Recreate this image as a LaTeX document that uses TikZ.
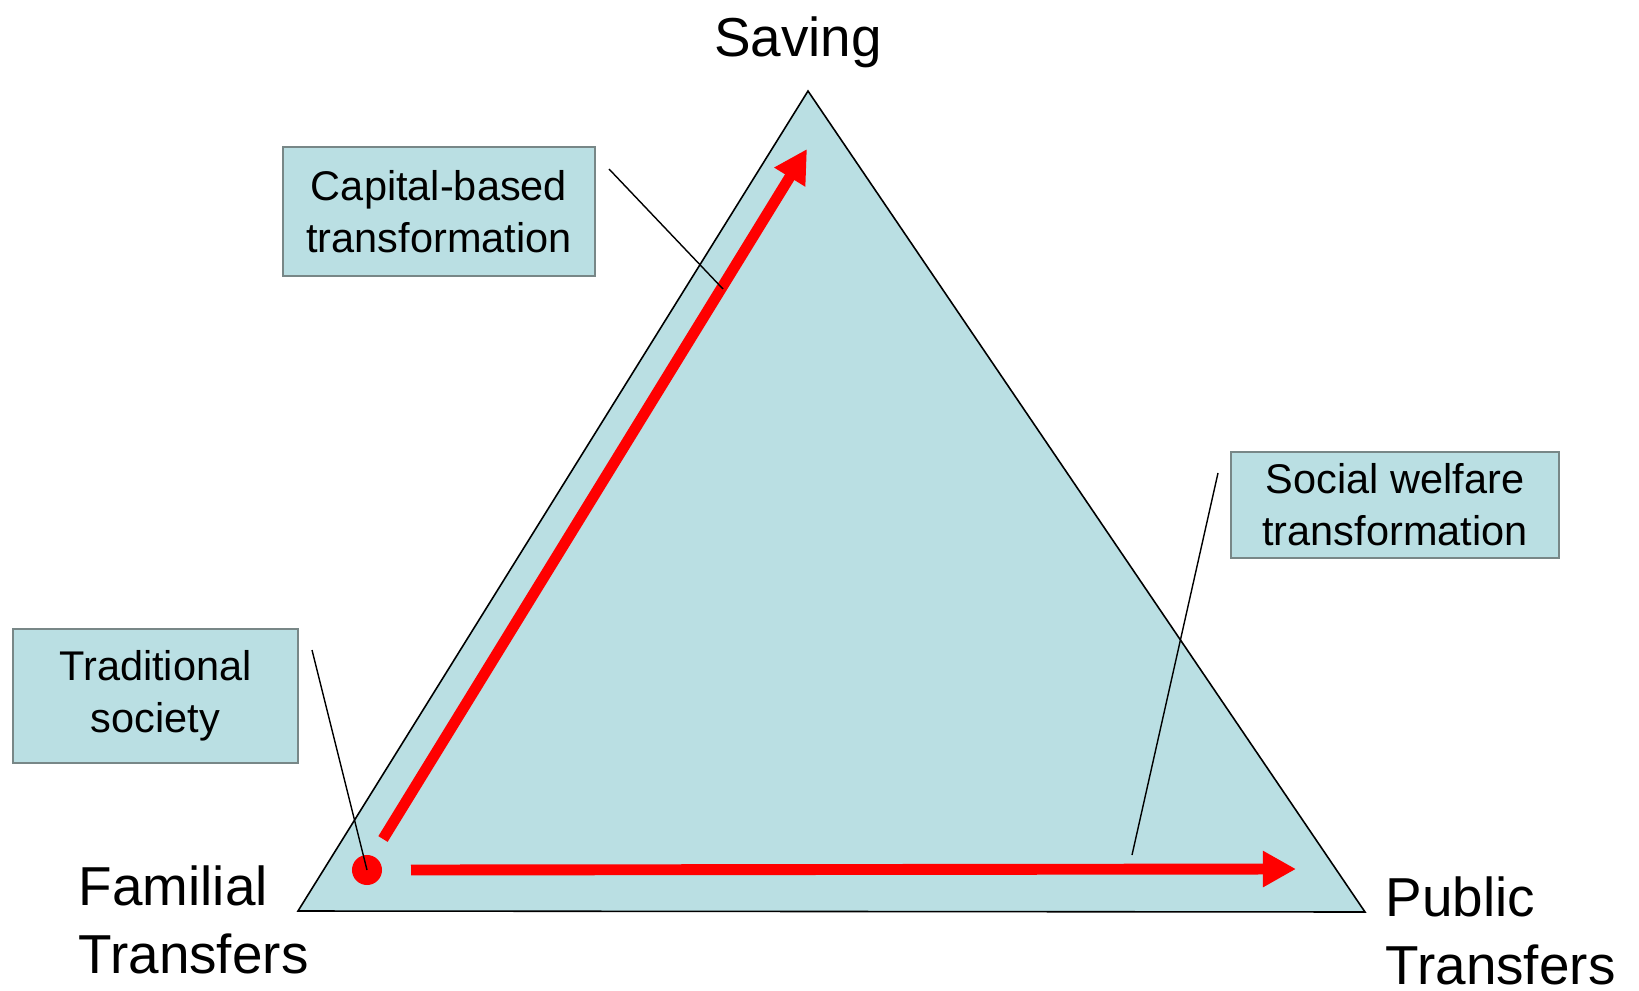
\documentclass[tikz,border=0pt]{standalone}
\usepackage{fontspec}
\setmainfont{Liberation Sans}
\usetikzlibrary{arrows.meta}
\definecolor{paleteal}{RGB}{186,223,227}
\definecolor{boxgrey}{RGB}{120,135,135}
\definecolor{arrowred}{RGB}{255,0,0}

\begin{document}
\begin{tikzpicture}
[x=0.01cm, y=-0.01cm, line width=0.45pt,
stage/.style={rectangle, draw=boxgrey, fill=paleteal, line width=0.6pt, align=center,
    inner sep=0pt, font=\fontsize{11.8}{14.8}\selectfont},
corner/.style={inner sep=0pt, font=\fontsize{15.6}{19.3}\selectfont},
trend/.style={draw=arrowred, line width=3.1pt, -{Triangle[length=9.4pt,width=9.7pt]}},
pointer/.style={draw=black, line width=0.4pt}]

\useasboundingbox (0,0) rectangle (1639,991);

% the triangle and its corners
\coordinate (apex) at (808,91);
\coordinate (fam) at (298,911);
\coordinate (pub) at (1365,912);
\draw[fill=paleteal] (apex) -- (fam) -- (pub) -- cycle;

\node[corner, anchor=base] (saving) at (798,57) {Saving};
\node[corner, anchor=base west, align=left] (famlab) at (78,973) {Familial\\Transfers};
\node[corner, anchor=base west, align=left] (publab) at (1385,984) {Public\\Transfers};

% boxes
\node[stage, minimum width=3.12cm, minimum height=1.29cm] (capbox) at (439,211.5)
    {Capital-based\\transformation};
\node[stage, minimum width=3.28cm, minimum height=1.06cm] (welbox) at (1395,505)
    {Social welfare\\transformation};
\node[stage, minimum width=2.85cm, minimum height=1.34cm] (tradbox) at (155.5,696)
    {Traditional\\society};

% red moves
\node[circle, fill=arrowred, inner sep=0pt, minimum size=0.30cm] (dot) at (367,870) {};
\coordinate (upstart) at (383,839);
\coordinate (uptip) at (807,149);
\coordinate (rightstart) at (411,870);
\coordinate (righttip) at (1296,869);
\draw[trend] (upstart) -- (uptip);
\draw[trend] (rightstart) -- (righttip);

% leaders
\coordinate (capfrom) at (609,169);
\coordinate (capto) at (723,289);
\coordinate (welfrom) at (1218,473);
\coordinate (welto) at (1132,855);
\coordinate (tradfrom) at (312,650);
\draw[pointer] (capfrom) -- (capto);
\draw[pointer] (welfrom) -- (welto);
\draw[pointer] (tradfrom) -- (dot.center);

\end{tikzpicture}
\end{document}
